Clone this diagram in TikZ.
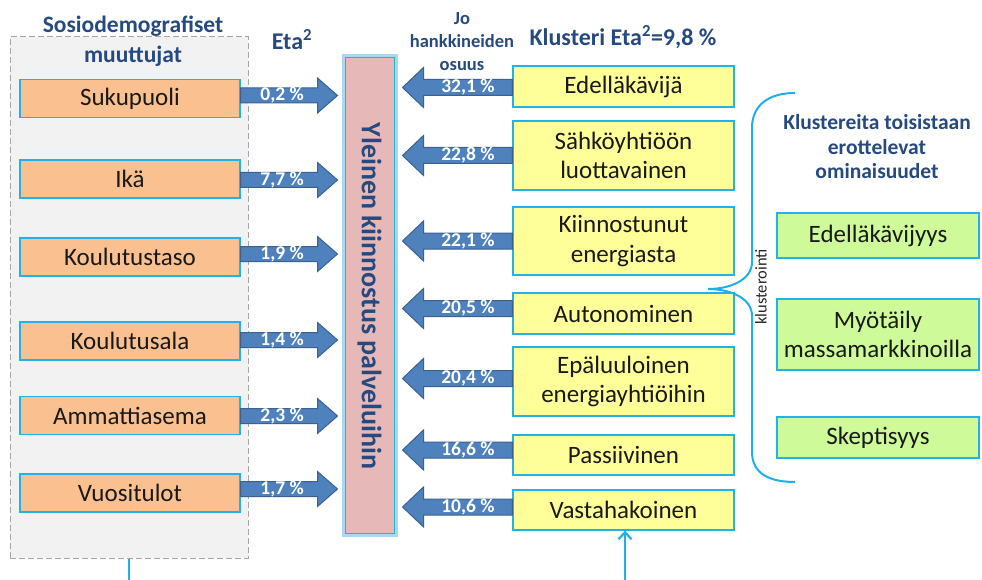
\documentclass[tikz,border=0pt]{standalone}
\usepackage{fontspec}
\setmainfont{Carlito}
\usetikzlibrary{calc,arrows.meta}

\definecolor{titleblue}{HTML}{264A80}
\definecolor{panelgray}{HTML}{F2F2F2}
\definecolor{paneledge}{HTML}{A6A6A6}
\definecolor{boxcyan}{HTML}{22B2EA}
\definecolor{glowblue}{HTML}{A9D8F2}
\definecolor{orangefill}{HTML}{FAC090}
\definecolor{yellowfill}{HTML}{FFFF99}
\definecolor{greenfill}{HTML}{CEFA9A}
\definecolor{pinkfill}{HTML}{E6B9B8}
\definecolor{arrowblue}{HTML}{4F81BD}
\definecolor{arrowedge}{HTML}{3A6190}
\definecolor{linkcyan}{HTML}{1DB0EC}

% block arrow pointing right, from #1 to the x of #2, with label #3
\newcommand\rightblock[3]{%
  \draw[blk] let \p1=(#1), \p2=(#2) in
    (\x1,\y1+7.5pt) -- (\x2-20pt,\y1+7.5pt) -- (\x2-20pt,\y1+17.5pt) -- (\x2,\y1)
    -- (\x2-20pt,\y1-17.5pt) -- (\x2-20pt,\y1-7.5pt) -- (\x1,\y1-7.5pt) -- cycle;
  \path let \p1=(#1), \p2=(#2) in
    node[pct] at ({(\x1+\x2-14pt)/2},\y1) {#3};}
% block arrow pointing left, from #1 to the x of #2, with label #3
\newcommand\leftblock[3]{%
  \draw[blk] let \p1=(#1), \p2=(#2) in
    (\x1,\y1+8pt) -- (\x2+21pt,\y1+8pt) -- (\x2+21pt,\y1+20pt) -- (\x2,\y1)
    -- (\x2+21pt,\y1-20pt) -- (\x2+21pt,\y1-8pt) -- (\x1,\y1-8pt) -- cycle;
  \path let \p1=(#1), \p2=(#2) in
    node[pct] at ({(\x1+\x2+21pt)/2},\y1) {#3};}

\begin{document}
\begin{tikzpicture}[x=1pt,y=-1pt,
  panel/.style={draw=paneledge, fill=panelgray, line width=1pt,
    dash pattern=on 6pt off 3pt, minimum width=238pt, minimum height=521pt, inner sep=0pt},
  basebox/.style={draw=boxcyan, line width=1.3pt, inner sep=0pt, align=center,
    text=black!90, font=\fontsize{25}{29.5}\selectfont},
  obox/.style={basebox, fill=orangefill, minimum width=220pt, minimum height=38pt},
  ybox/.style={basebox, fill=yellowfill, minimum width=221pt},
  gbox/.style={basebox, fill=greenfill, minimum width=202pt},
  pinkbox/.style={fill=pinkfill, draw=boxcyan, line width=1pt,
    preaction={draw=glowblue, line width=7pt},
    minimum width=49pt, minimum height=475pt, inner sep=0pt},
  title/.style={text=titleblue, align=center, font=\bfseries\fontsize{24}{29}\selectfont},
  smalltitle/.style={text=titleblue, align=center, font=\bfseries\fontsize{21.5}{24.5}\selectfont},
  blk/.style={fill=arrowblue, draw=arrowedge, line width=1pt, line join=miter},
  pct/.style={text=white, font=\bfseries\fontsize{19.5}{20}\selectfont, inner sep=0pt},
  link/.style={draw=linkcyan, line width=2.2pt}
]
\useasboundingbox (0,0) rectangle (982,580);

% left panel of background variables
\node[panel] (panel) at (129,297.5) {};
\node[title, font=\bfseries\fontsize{23.5}{30}\selectfont] (ptitle) at (133,41) {Sosiodemografiset\\muuttujat};
\node[title] (eta) at (292,40) {Eta\textsuperscript{2}};

\node[obox] (s1) at (130,98.5) {Sukupuoli};
\node[obox] (s2) at (130,179) {Ikä};
\node[obox] (s3) at (130,257) {Koulutustaso};
\node[obox] (s4) at (130,341) {Koulutusala};
\node[obox] (s5) at (130,415.5) {Ammattiasema};
\node[obox] (s6) at (130,493) {Vuositulot};

% central outcome
\node[pinkbox] (mid) at (369.5,295.5) {};
\node[rotate=-90, text=titleblue, font=\bfseries\fontsize{28}{30}\selectfont]
  (midtext) at (369.5,296) {Yleinen kiinnostus palveluihin};

% clusters
\node[text=titleblue, align=center, font=\bfseries\fontsize{18.5}{23}\selectfont]
  (jo) at (462,42) {Jo\\hankkineiden\\osuus};
\node[title] (ktitle) at (623,37) {Klusteri Eta\textsuperscript{2}=9,8 \%};

\node[ybox, minimum height=41pt] (c1) at (623.5,86.5) {Edelläkävijä};
\node[ybox, minimum height=69pt] (c2) at (623.5,155.5) {Sähköyhtiöön\\luottavainen};
\node[ybox, minimum height=68pt] (c3) at (623.5,241) {Kiinnostunut\\energiasta};
\node[ybox, minimum height=41pt] (c4) at (623.5,313.5) {Autonominen};
\node[ybox, minimum height=69pt] (c5) at (623.5,381.5) {Epäluuloinen\\energiayhtiöihin};
\node[ybox, minimum height=40pt] (c6) at (623.5,455) {Passiivinen};
\node[ybox, minimum height=40pt] (c7) at (623.5,510) {Vastahakoinen};

% distinguishing features
\node[smalltitle] (ftitle) at (877,147) {Klustereita toisistaan\\erottelevat\\ominaisuudet};
\node[gbox, minimum height=45pt] (f1) at (878,235.5) {Edelläkävijyys};
\node[gbox, minimum height=71pt] (f2) at (878,334.5) {Myötäily\\massamarkkinoilla};
\node[gbox, minimum height=41pt] (f3) at (878,437.5) {Skeptisyys};

% brace grouping the features
\draw[link, line width=2pt]
  (795,93) .. controls (770,93) and (752,104) .. (752,128) -- (752,262)
  .. controls (752,280) and (730,289) .. (708,289)
  .. controls (730,289) and (752,298) .. (752,316) -- (752,452)
  .. controls (752,474) and (770,482) .. (795,482);
\node[rotate=90, text=black!85, font=\fontsize{16.5}{18}\selectfont] (klust) at (761,287) {klusterointi};

% effect arrows into the outcome
\rightblock{[yshift=3pt]s1.east}{[xshift=-7pt]mid.west}{0,2 \%}
\rightblock{[yshift=-1pt]s2.east}{[xshift=-7pt]mid.west}{7,7 \%}
\rightblock{[yshift=3pt]s3.east}{[xshift=-7pt]mid.west}{1,9 \%}
\rightblock{[yshift=1pt]s4.east}{[xshift=-7pt]mid.west}{1,4 \%}
\rightblock{[yshift=-0.5pt]s5.east}{[xshift=-7pt]mid.west}{2,3 \%}
\rightblock{[yshift=4pt]s6.east}{[xshift=-7pt]mid.west}{1,7 \%}

\leftblock{[yshift=-1pt]c1.west}{[xshift=8pt]mid.east}{32,1 \%}
\leftblock{c2.west}{[xshift=8pt]mid.east}{22,8 \%}
\leftblock{c3.west}{[xshift=8pt]mid.east}{22,1 \%}
\leftblock{[yshift=5pt]c4.west}{[xshift=8pt]mid.east}{20,5 \%}
\leftblock{[yshift=3pt]c5.west}{[xshift=8pt]mid.east}{20,4 \%}
\leftblock{[yshift=5pt]c6.west}{[xshift=8pt]mid.east}{16,6 \%}
\leftblock{[yshift=3pt]c7.west}{[xshift=8pt]mid.east}{10,6 \%}

% links leaving the picture at the bottom
\coordinate (pfoot) at (129,580);
\coordinate (cfoot) at (625,580);
\draw[link] (panel.south) -- (pfoot);
\draw[link, -{Straight Barb[length=7pt,width=13pt]}] (cfoot) -- (c7.south -| cfoot);
\end{tikzpicture}
\end{document}
